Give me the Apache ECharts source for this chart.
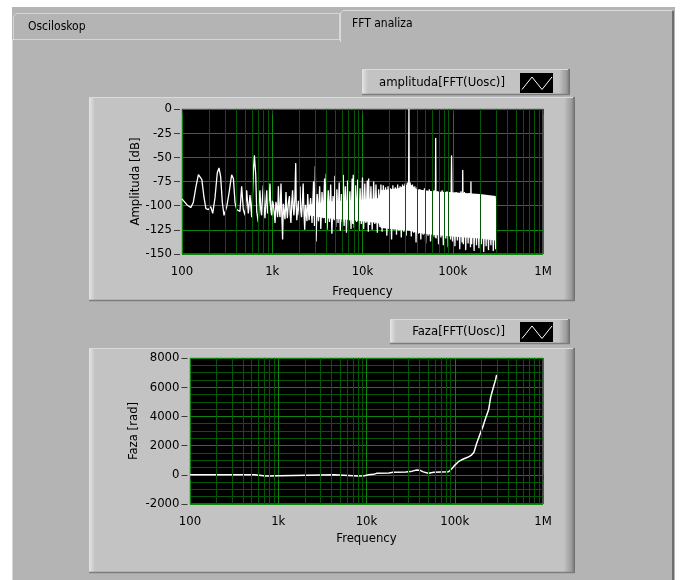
<!DOCTYPE html>
<html>
<head>
<meta charset="utf-8">
<script src="https://cdn.jsdelivr.net/npm/echarts@6/dist/echarts.min.js"></script>
<style>
html,body{margin:0;padding:0;background:#ffffff;}
#c{width:680px;height:580px;}
</style>
</head>
<body>
<div id="c"></div>
<script>
// ---------- data ----------
const xTicks = [100, 1000, 10000, 100000, 1000000];
const xTickLabels = ['100', '1k', '10k', '100k', '1M'];
const minorMultipliers = [2, 3, 4, 5, 6, 7, 8, 9];

const ampFreq = [
  100,103,113,125,133,143,152,158,166,175,184,196,208,219,232,246,257,268,280,292,
  313,332,355,371,387,404,425,439,458,478,500,521,543,567,592,617,634,656,673,700,
  715,731,746,762,779,796,813,830,849,869,887,906,925,944,964,985,1007,1030,1052,1074,
  1098,1122,1146,1170,1195,1220,1235,1250,1276,1303,1326,1350,1385,1420,1445,1470,1510,1550,1580,1610,
  1645,1680,1710,1740,1780,1820,1845,1870,1910,1950,1990,2030,2070,2110,2155,2200,2245,2290,2335,2380,
  2425,2470,2515,2560,
  2660,2760,2870,2940,3000,3060,3150,3250,3350,3450,3560,3680,3800,3900,3960,4050,4180,4300,4440,4580,
  4720,4860,4950,5050,5200,5360,5520,5680,5850,6000,6120,6260,6450,6640,6840,7040,7250,7460,7680,7800,
  7900,8100,8350,8600,8850,9100,9400,9700,10000,10300,10600,10900,11300,11600,11700,12000,12400,12800,13300,13700,
  14100,14600,15100,15600,16000,16500,17000,17500,18000,18600,19200,19800,20400,21000,21700,22400,23100,23800,24500,25300,
  26100,26900,27800,28700,29600,30500,31400,32300,32700,33100,33700,34700,35800,36900,38000,39200,40400,41700,43000,44300,
  45700,47100,48600,50100,51700,53300,55000,56700,58500,60300,62200,64000,64700,65400,67500,69600,71800,74000,76300,78700,
  81200,83700,86300,89000,91800,94700,97000,99400,102500,105700,109000,112400,115900,119500,123200,127000,129000,131000,135000,139200,
  143500,148000,152600,157300,159000,162200,167200,172400,177800,183300,189000,194900,201000,207200,213600,220300,227100,234200,241400,248900,
  256600,264600,272800,281300,290000,299000,301000
];
const ampDb = [
  -93,-94,-99,-102,-97,-80,-68,-66,-73,-91,-103,-104,-101,-108,-92,-66,-61,-70,-97,-110,
  -101,-87,-68,-72,-97,-104,-103,-106,-80,-104,-110,-84,-108,-89,-112,-65,-48,-68,-106,-117,
  -96,-84,-104,-110,-92,-79,-101,-113,-97,-84,-108,-106,-94,-77,-104,-110,-95,-99,-108,-118,
  -96,-101,-112,-80,-106,-112,-94,-77,-108,-135,-98,-105,-114,-86,-104,-113,-97,-90,-109,-118,
  -96,-84,-103,-110,-93,-56,-101,-115,-104,-95,-110,-80,-105,-112,-98,-77,-106,-125,-99,-100,
  -116,-88,-103,-115,
  -92,-118,-75,-121,-59,-137,-88,-116,-80,-124,-86,-113,-72,-118,-67,-125,-84,-117,-78,-129,
  -90,-115,-69,-122,-83,-118,-76,-126,-88,-117,-68,-121,-80,-128,-74,-116,-85,-124,-72,-119,
  -68,-123,-79,-117,-73,-126,-82,-119,-71,-124,-77,-118,-74,-127,-72,-120,-80,-125,-75,-119,
  -78,-128,-83,-122,-78,-127,-79,-121,-81,-131,-80,-124,-82,-135,-79,-125,-81,-130,-78,-126,
  -80,-133,-78,-127,-77,-131,-76,-124,0,-124,-76,-132,-78,-128,-80,-138,-81,-129,-83,-135,
  -84,-130,-82,-139,-85,-131,-83,-137,-86,-132,-84,-133,-30,-134,-85,-140,-87,-133,-84,-141,
  -88,-134,-85,-143,-86,-135,-48,-137,-87,-142,-86,-136,-88,-145,-85,-138,-63,-140,-86,-146,
  -88,-139,-87,-143,-75,-140,-89,-147,-88,-141,-90,-144,-88,-140,-90,-148,-89,-142,-91,-146,
  -90,-141,-92,-147,-91,-145,-92
];

// solid core of the noise band (lower / upper edge)
const bandFreq = [2500, 4000, 6000, 10000, 15000, 16000, 25000, 33000, 40000, 60000, 100000, 200000, 300000];
const bandLow  = [-110, -113, -114, -116, -118, -123, -125, -126, -128, -130, -132, -134, -136];
const bandHigh = [-99, -96, -95, -94, -92, -84, -82, -77, -83, -85, -86, -88, -90];

const phaseFreq = [
  100,540,560,720,740,4300,4400,8000,8200,9500,10500,12000,13000,18000,20000,28000,33000,37000,40000,44000,
  50000,58000,70000,85000,92000,100000,110000,125000,140000,155000,165000,177000,195000,210000,220000,242000,255000,274000,290000,298000
];
const phaseRad = [
  0,0,-80,-80,0,0,-90,-90,-60,-60,0,30,100,120,170,190,250,330,320,200,
  100,180,200,210,400,650,900,1080,1200,1350,1550,2150,2850,3350,3750,4450,5300,6000,6500,6850
];

// ---------- styling ----------
const FONT = "'DejaVu Sans Condensed', 'Liberation Sans', sans-serif";
const FS = 13;
const MAJOR_GRID = '#0b860b';
const MINOR_GRID = '#055605';
const TICK = '#3a3a3a';

function fmtFreq(v) {
  let best = 0;
  const lv = Math.log10(v);
  for (let i = 1; i < xTicks.length; i++) {
    if (Math.abs(lv - Math.log10(xTicks[i])) < Math.abs(lv - Math.log10(xTicks[best]))) best = i;
  }
  return xTickLabels[best];
}

const minorFreqs = [];
xTicks.slice(0, -1).forEach(d => minorMultipliers.forEach(m => minorFreqs.push(d * m)));

function makeX(gi, offset, margin, nameGap) {
  return {
    type: 'log', logBase: 10, gridIndex: gi, min: 100, max: 1000000, offset: offset,
    name: 'Frequency', nameLocation: 'middle', nameGap: nameGap, nameMoveOverlap: false,
    nameTextStyle: { color: '#000', fontFamily: FONT, fontSize: FS },
    axisLine: { show: false },
    axisTick: { show: true, length: 5, lineStyle: { color: TICK, width: 1 } },
    axisLabel: { margin: margin, color: '#000', fontFamily: FONT, fontSize: FS, formatter: fmtFreq },
    splitLine: { show: true, lineStyle: { color: MAJOR_GRID, width: 1 } }
  };
}

function frame(x, y, w, h) {
  return [
    { type: 'rect', z: -8, shape: { x: x, y: y, width: w, height: h }, style: { fill: '#c3c3c3' } },
    { type: 'rect', z: -7, shape: { x: x, y: y, width: 6, height: h },
      style: { fill: { type: 'linear', x: 0, y: 0, x2: 1, y2: 0, colorStops: [{ offset: 0, color: '#e4e4e4' }, { offset: 1, color: '#c3c3c3' }] } } },
    { type: 'rect', z: -7, shape: { x: x + w - 11, y: y, width: 11, height: h },
      style: { fill: { type: 'linear', x: 0, y: 0, x2: 1, y2: 0, colorStops: [{ offset: 0, color: '#c3c3c3' }, { offset: 0.7, color: '#9a9a9a' }, { offset: 1, color: '#6a6a6a' }] } } },
    { type: 'line', z: -6, shape: { x1: x, y1: y + 0.5, x2: x + w - 2, y2: y + 0.5 }, style: { stroke: '#dadada', lineWidth: 1 } },
    { type: 'line', z: -6, shape: { x1: x, y1: y + h - 0.5, x2: x + w, y2: y + h - 0.5 }, style: { stroke: '#7c7c7c', lineWidth: 1.5 } }
  ];
}

function legendBox(x, y, w, h, label, textRight, iconY) {
  const els = frame(x, y, w, h);
  els.push({ type: 'text', z: -5, style: { text: label, x: textRight, y: y + h / 2 + 0.5, fill: '#000', font: FS + 'px ' + FONT, align: 'right', verticalAlign: 'middle' } });
  els.push({ type: 'rect', z: -5, shape: { x: 520, y: iconY, width: 33, height: 20 }, style: { fill: '#000' } });
  els.push({ type: 'polyline', z: -4, shape: { points: [[522, iconY + 16.5], [532, iconY + 4], [542, iconY + 16.5], [552, iconY + 4]] }, style: { stroke: '#ffffff', lineWidth: 1, fill: null } });
  return els;
}

const graphics = [].concat(
  [
    { type: 'rect', z: -10, shape: { x: 12, y: 7, width: 663, height: 573 }, style: { fill: '#b4b4b4' } },
    { type: 'rect', z: -9, shape: { x: 672, y: 11, width: 2, height: 569 }, style: { fill: '#6e6e6e' } },
    { type: 'line', z: -9, shape: { x1: 12.5, y1: 40, x2: 12.5, y2: 580 }, style: { stroke: '#d6d6d6', lineWidth: 1 } },
    { type: 'polyline', z: -9, shape: { points: [[13.5, 40], [13.5, 16], [16.5, 13.5], [339.5, 13.5], [339.5, 39.5]] }, style: { stroke: '#d6d6d6', lineWidth: 1, fill: null } },
    { type: 'line', z: -9, shape: { x1: 12, y1: 39.5, x2: 340, y2: 39.5 }, style: { stroke: '#d6d6d6', lineWidth: 1 } },
    { type: 'polyline', z: -9, shape: { points: [[340.5, 42], [340.5, 13], [343, 10.5], [672, 10.5]] }, style: { stroke: '#dcdcdc', lineWidth: 1, fill: null } },
    { type: 'text', z: -5, style: { text: 'Osciloskop', x: 28, y: 27, fill: '#000', font: '12px ' + FONT, align: 'left', verticalAlign: 'middle' } },
    { type: 'text', z: -5, style: { text: 'FFT analiza', x: 352, y: 24, fill: '#000', font: '12px ' + FONT, align: 'left', verticalAlign: 'middle' } }
  ],
  legendBox(362, 69, 208, 26, 'amplituda[FFT(Uosc)]', 505, 73),
  frame(89, 97, 486, 204),
  legendBox(390, 319, 180, 25, 'Faza[FFT(Uosc)]', 505, 322),
  frame(89, 348, 486, 225)
);

function minorLineSeries(xi, yi) {
  return {
    type: 'line', xAxisIndex: xi, yAxisIndex: yi, data: [], z: 1, silent: true,
    markLine: {
      silent: true, symbol: ['none', 'none'], animation: false, label: { show: false },
      lineStyle: { color: MINOR_GRID, width: 1, type: 'solid' },
      emphasis: { disabled: true },
      data: minorFreqs.map(v => ({ xAxis: v }))
    }
  };
}

function plainNum(v) { return String(v); }

const option = {
  animation: false,
  backgroundColor: '#ffffff',
  graphic: { elements: graphics },
  grid: [
    { left: 182, top: 109, width: 361, height: 145, show: true, backgroundColor: '#000', borderColor: '#8e8e8e', borderWidth: 1 },
    { left: 190, top: 358, width: 353, height: 146, show: true, backgroundColor: '#000', borderColor: '#8e8e8e', borderWidth: 1 }
  ],
  xAxis: [makeX(0, 3, 8, 28), makeX(1, 2.5, 9, 26)],
  yAxis: [
    {
      type: 'value', gridIndex: 0, min: -150, max: 0, interval: 25, offset: 2,
      name: 'Amplituda [dB]', nameLocation: 'middle', nameGap: 38, nameMoveOverlap: false,
      nameTextStyle: { color: '#000', fontFamily: FONT, fontSize: FS },
      axisLine: { show: false },
      axisTick: { show: true, length: 6, lineStyle: { color: TICK, width: 1 } },
      axisLabel: { margin: 8, color: '#000', fontFamily: FONT, fontSize: FS, formatter: plainNum },
      splitLine: { show: true, lineStyle: { color: MAJOR_GRID, width: 1 } }
    },
    {
      type: 'value', gridIndex: 1, min: -2000, max: 8000, interval: 2000, offset: 2.5,
      name: 'Faza [rad]', nameLocation: 'middle', nameGap: 47, nameMoveOverlap: false,
      nameTextStyle: { color: '#000', fontFamily: FONT, fontSize: FS },
      axisLine: { show: false },
      axisTick: { show: true, length: 6, lineStyle: { color: TICK, width: 1 } },
      axisLabel: { margin: 8, color: '#000', fontFamily: FONT, fontSize: FS, formatter: plainNum },
      splitLine: { show: true, lineStyle: { color: MAJOR_GRID, width: 1 } },
      minorTick: { show: false, splitNumber: 4 },
      minorSplitLine: { show: true, lineStyle: { color: MINOR_GRID, width: 1 } }
    }
  ],
  series: [
    minorLineSeries(0, 0),
    minorLineSeries(1, 1),
    {
      type: 'custom', xAxisIndex: 0, yAxisIndex: 0, z: 2, silent: true, clip: true,
      data: [[bandFreq[0], bandLow[0]]],
      renderItem: function (params, api) {
        const pts = [];
        for (let i = 0; i < bandFreq.length; i++) pts.push(api.coord([bandFreq[i], bandHigh[i]]));
        for (let i = bandFreq.length - 1; i >= 0; i--) pts.push(api.coord([bandFreq[i], bandLow[i]]));
        return { type: 'polygon', shape: { points: pts }, style: { fill: '#ffffff', stroke: null } };
      }
    },
    {
      type: 'line', xAxisIndex: 0, yAxisIndex: 0, z: 3, symbol: 'none', silent: true, clip: true,
      lineStyle: { color: '#ffffff', width: 1.3 },
      data: ampFreq.map((f, i) => [f, ampDb[i]])
    },
    {
      type: 'line', xAxisIndex: 1, yAxisIndex: 1, z: 3, symbol: 'none', silent: true, clip: true,
      lineStyle: { color: '#ffffff', width: 1.5 },
      data: phaseFreq.map((f, i) => [f, phaseRad[i]])
    }
  ]
};

const chart = echarts.init(document.getElementById('c'), null, { renderer: 'canvas' });
chart.setOption(option);
</script>
</body>
</html>
